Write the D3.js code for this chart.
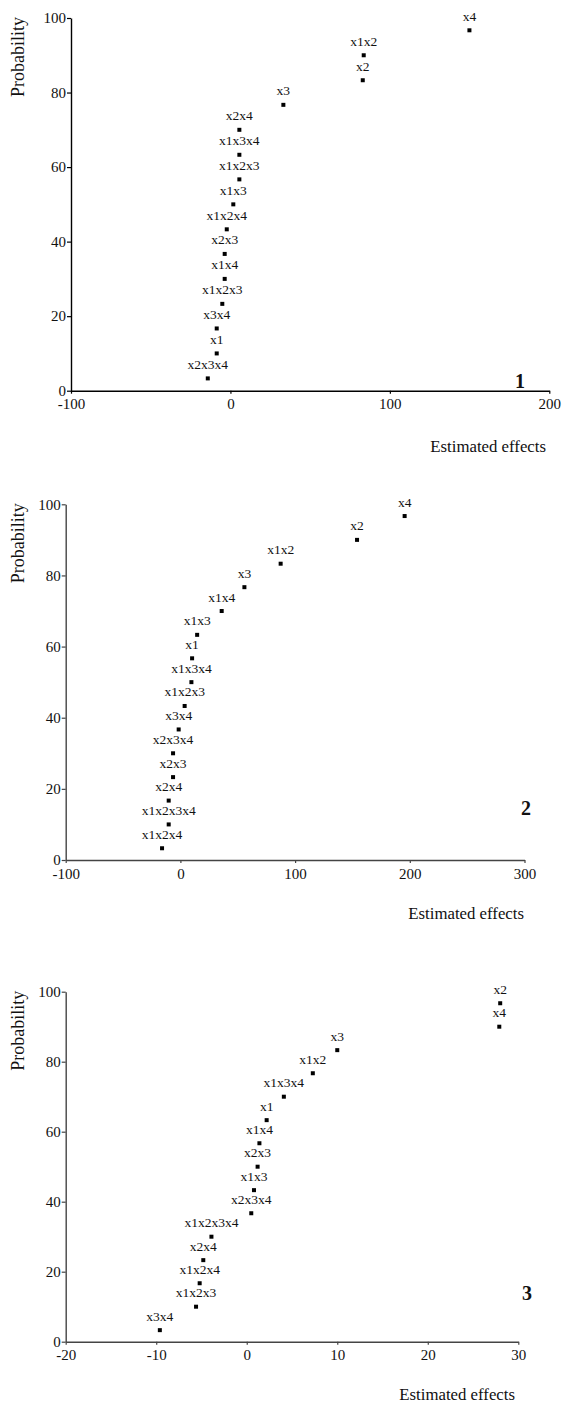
<!DOCTYPE html>
<html>
<head>
<meta charset="utf-8">
<script src="https://cdn.jsdelivr.net/npm/d3@7"></script>
<style>
  body { margin: 0; background: #fff; }
  svg { display: block; }
  text { font-family: "Liberation Serif", "Times New Roman", serif; fill: #111; }
</style>
</head>
<body>
<div id="chart"></div>
<script>
// normal probability of each ranked effect (same for all three plots)
var probs = [3.3, 10, 16.7, 23.3, 30, 36.7, 43.3, 50, 56.7, 63.3, 70, 76.7, 83.3, 90, 96.7]

// plot 1
var labels1 = ['x2x3x4','x1','x3x4','x1x2x3','x1x4','x2x3','x1x2x4','x1x3','x1x2x3','x1x3x4','x2x4','x3','x2','x1x2','x4']
var effects1 = [-14.2, -8.6, -8.6, -5.1, -3.6, -3.6, -2.3, 1.8, 5.6, 5.6, 5.6, 33.2, 83.0, 83.6, 149.9]
var xticks1 = [-100, 0, 100, 200]

// plot 2
var labels2 = ['x1x2x4','x1x2x3x4','x2x4','x2x3','x2x3x4','x3x4','x1x2x3','x1x3x4','x1','x1x3','x1x4','x3','x1x2','x2','x4']
var effects2 = [-16, -10.2, -10.2, -6.4, -6.4, -1.5, 3.7, 9.6, 10.2, 14.6, 36, 55.8, 87.4, 154, 195.5]
var xticks2 = [-100, 0, 100, 200, 300]

// plot 3
var labels3 = ['x3x4','x1x2x3','x1x2x4','x2x4','x1x2x3x4','x2x3x4','x1x3','x2x3','x1x4','x1','x1x3x4','x1x2','x3','x4','x2']
var effects3 = [-9.6, -5.6, -5.2, -4.8, -3.9, 0.5, 0.8, 1.2, 1.4, 2.2, 4.1, 7.3, 10.0, 27.9, 28.0]
var xticks3 = [-20, -10, 0, 10, 20, 30]

var yticks = [0, 20, 40, 60, 80, 100]

var svg = d3.select('#chart').append('svg')
    .attr('width', 563)
    .attr('height', 1403)

// draw one normal probability plot
makeplot = function(labels, effects, xticks, num, left, right, top, bottom, xtitleEnd, xtitleY, numX, numY, axcol) {

  var x = d3.scaleLinear().domain([xticks[0], xticks[xticks.length-1]]).range([left, right])
  var y = d3.scaleLinear().domain([0, 100]).range([bottom, top])

  var g = svg.append('g')

  // plain hyphen for negatives, like the original
  var fmt = function(d) { return String(d) }

  // y axis
  var ya = g.append('g')
      .attr('transform', 'translate(' + left + ',0)')
      .call(d3.axisLeft(y).tickValues(yticks).tickFormat(fmt).tickSize(4).tickPadding(1).tickSizeOuter(0))
  // x axis
  var xa = g.append('g')
      .attr('transform', 'translate(0,' + bottom + ')')
      .call(d3.axisBottom(x).tickValues(xticks).tickFormat(fmt).tickSize(3).tickPadding(5).tickSizeOuter(0))

  ;[ya, xa].forEach(function(a) {
    a.attr('font-family', null)
    a.select('.domain').attr('stroke', axcol).attr('stroke-width', 1.4)
    a.selectAll('.tick line').attr('stroke', axcol).attr('stroke-width', 1.2)
    a.selectAll('.tick text')
      .attr('font-family', '"Liberation Serif", serif')
      .attr('font-size', 15)
      .attr('fill', '#111')
  })

  // axis titles
  g.append('text')
    .attr('transform', 'translate(24,' + (top - 1) + ') rotate(-90)')
    .attr('text-anchor', 'end')
    .attr('font-size', 18)
    .text('Probability')

  g.append('text')
    .attr('x', xtitleEnd)
    .attr('y', xtitleY)
    .attr('text-anchor', 'end')
    .attr('font-size', 16.8)
    .text('Estimated effects')

  // plot number
  g.append('text')
    .attr('x', numX)
    .attr('y', numY)
    .attr('text-anchor', 'middle')
    .attr('font-size', 20)
    .attr('font-weight', 'bold')
    .text(num)

  // points and their labels
  for (var i in effects) {
    g.append('rect')
      .attr('x', x(effects[i]) - 2)
      .attr('y', y(probs[i]) - 2)
      .attr('width', 4)
      .attr('height', 4)
      .attr('fill', '#000')

    g.append('text')
      .attr('x', x(effects[i]))
      .attr('y', y(probs[i]) - 9.5)
      .attr('text-anchor', 'middle')
      .attr('font-size', 13.5)
      .text(labels[i])
  }
}

makeplot(labels1, effects1, xticks1, '1', 71, 549.3, 18, 390.7, 546, 452, 520, 388, '#000')
makeplot(labels2, effects2, xticks2, '2', 65.7, 524.5, 504.3, 860, 524, 919, 526, 815, '#444')
makeplot(labels3, effects3, xticks3, '3', 65.7, 518.3, 991.7, 1341.7, 515, 1399.5, 527, 1300, '#444')
</script>
</body>
</html>
